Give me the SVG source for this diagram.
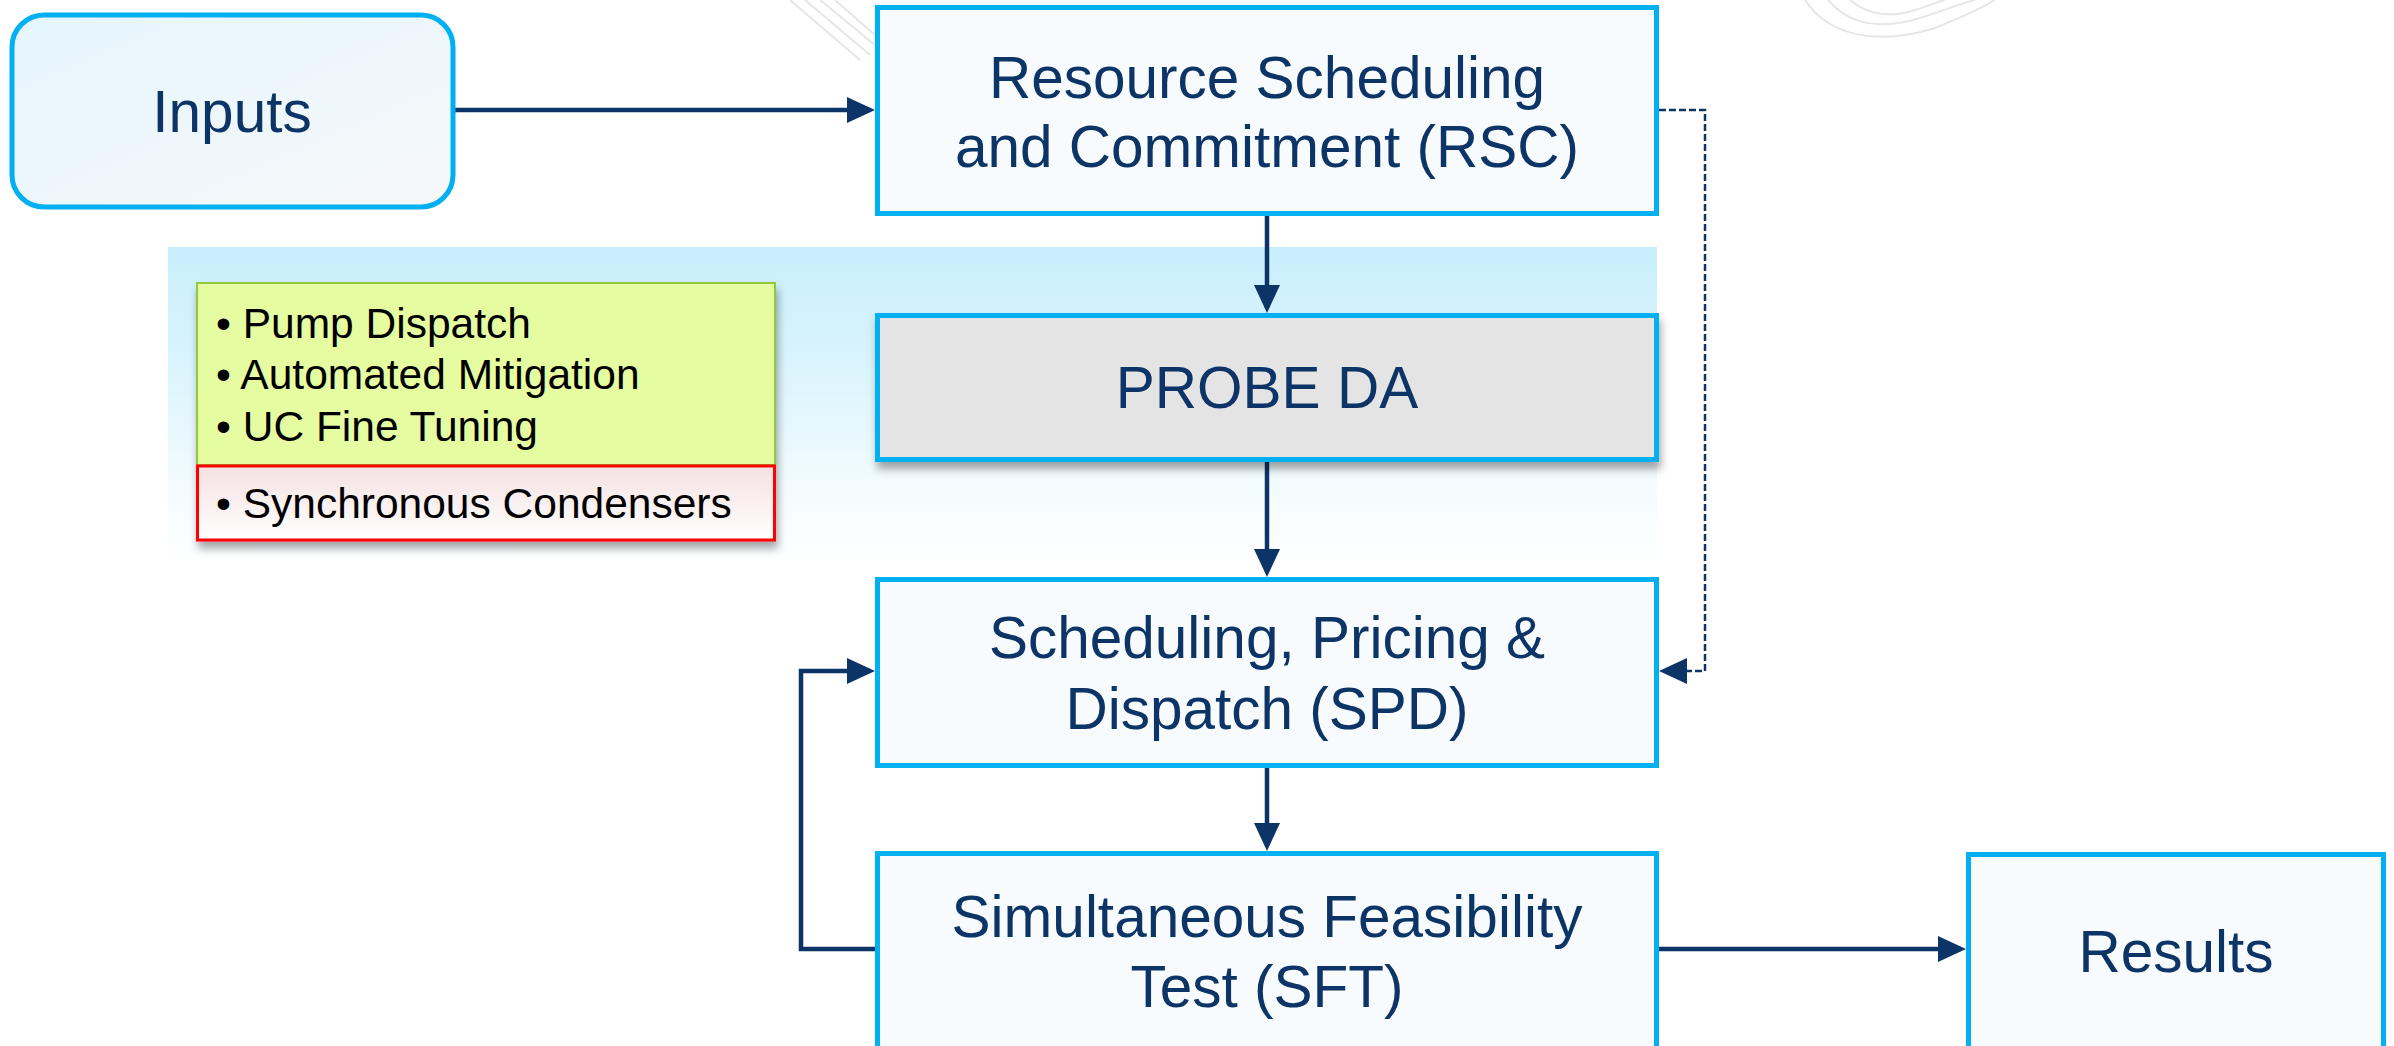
<svg xmlns="http://www.w3.org/2000/svg" width="2394" height="1046" viewBox="0 0 2394 1046">
<defs>
<style>
.box{fill:#f7fbfd;stroke:#00b0f0;stroke-width:5}
.lbl{font-family:"Liberation Sans",Arial,sans-serif;font-size:58.5px;fill:#0d3466;text-anchor:middle}
.bul{font-family:"Liberation Sans",Arial,sans-serif;font-size:42.5px;fill:#000}
.con{fill:none;stroke:#0d3466;stroke-width:4.5}
.dash{fill:none;stroke:#0d3466;stroke-width:2.5;stroke-dasharray:7 3}
.wm{fill:none;stroke:#e6e6e6;stroke-width:2}
</style>
<linearGradient id="gIn" x1="0" y1="0" x2="1" y2="1">
<stop offset="0" stop-color="#e5f6fd"/><stop offset="1" stop-color="#f6f8f9"/>
</linearGradient>
<linearGradient id="gBand" x1="0" y1="0" x2="0" y2="1">
<stop offset="0" stop-color="#c8eefc"/><stop offset="0.35" stop-color="#d9f4fd"/><stop offset="0.8" stop-color="#f6fcfe"/><stop offset="1" stop-color="#ffffff"/>
</linearGradient>
<linearGradient id="gRed" x1="0" y1="0" x2="0" y2="1">
<stop offset="0" stop-color="#f5e1e1"/><stop offset="1" stop-color="#ffffff"/>
</linearGradient>
<filter id="sh" x="-5%" y="-10%" width="112%" height="130%">
<feDropShadow dx="2" dy="7" stdDeviation="4" flood-color="#000" flood-opacity="0.35"/>
</filter>
<marker id="ah" markerUnits="userSpaceOnUse" markerWidth="28" markerHeight="26" viewBox="0 0 28 26" refX="23" refY="13" orient="auto">
<path d="M0,0 L28,13 L0,26 z" fill="#0d3466"/>
</marker>
</defs>
<rect width="2394" height="1046" fill="#fff"/>
<g id="watermark">
<path class="wm" d="M1828,0 C1850,25 1880,30 1920,18 C1945,10 1965,2 1975,0"/>
<path class="wm" d="M1850,0 C1868,15 1890,18 1915,10 C1930,5 1940,1 1945,0"/>
<path class="wm" d="M1805,0 C1830,38 1880,45 1935,28 C1960,18 1985,6 1995,0"/>
<path class="wm" d="M790,0 L860,60 M805,0 L870,55 M820,0 L875,45 M835,0 L875,35"/>
</g>
<rect id="band" x="168" y="247" width="1489" height="320" fill="url(#gBand)"/>
<g id="connectors">
<path class="con" d="M453,110 H870" marker-end="url(#ah)"/>
<path class="con" d="M1267,216 V308" marker-end="url(#ah)"/>
<path class="con" d="M1267,462 V572" marker-end="url(#ah)"/>
<path class="con" d="M1267,768 V846" marker-end="url(#ah)"/>
<path class="con" d="M875,949 H801 V671 H870" marker-end="url(#ah)"/>
<path class="con" d="M1659,949 H1961" marker-end="url(#ah)"/>
<path class="dash" d="M1659,110 H1705 V671 H1664" marker-end="url(#ah)"/>
</g>
<g id="inputs">
<rect x="12" y="15" width="441" height="192" rx="32" fill="url(#gIn)" stroke="#00b0f0" stroke-width="5"/>
<text class="lbl" x="232" y="132">Inputs</text>
</g>
<g id="rsc">
<rect class="box" x="877.5" y="7.5" width="779" height="206"/>
<text class="lbl" x="1267" y="98">Resource Scheduling</text>
<text class="lbl" x="1267" y="167">and Commitment (RSC)</text>
</g>
<g id="probe">
<rect x="877.5" y="315.5" width="779" height="144" fill="#e4e4e4" stroke="#00b0f0" stroke-width="5" filter="url(#sh)"/>
<text class="lbl" x="1267" y="408">PROBE DA</text>
</g>
<g id="features" filter="url(#sh)">
<rect x="197" y="283" width="578" height="182" fill="#e5fca1" stroke="#92c83e" stroke-width="2"/>
<rect x="197.5" y="466" width="577" height="74" fill="url(#gRed)" stroke="#ff0000" stroke-width="3"/>
</g>
<g id="feature-text">
<text class="bul" x="216" y="338">• Pump Dispatch</text>
<text class="bul" x="216" y="389">• Automated Mitigation</text>
<text class="bul" x="216" y="441">• UC Fine Tuning</text>
<text class="bul" x="216" y="518">• Synchronous Condensers</text>
</g>
<g id="spd">
<rect class="box" x="877.5" y="579.5" width="779" height="186"/>
<text class="lbl" x="1267" y="658">Scheduling, Pricing &amp;</text>
<text class="lbl" x="1267" y="729">Dispatch (SPD)</text>
</g>
<g id="sft">
<rect class="box" x="877.5" y="853.5" width="779" height="220"/>
<text class="lbl" x="1267" y="937">Simultaneous Feasibility</text>
<text class="lbl" x="1267" y="1007">Test (SFT)</text>
</g>
<g id="results">
<rect class="box" x="1968.5" y="854.5" width="415" height="220"/>
<text class="lbl" x="2176" y="972">Results</text>
</g>
</svg>
